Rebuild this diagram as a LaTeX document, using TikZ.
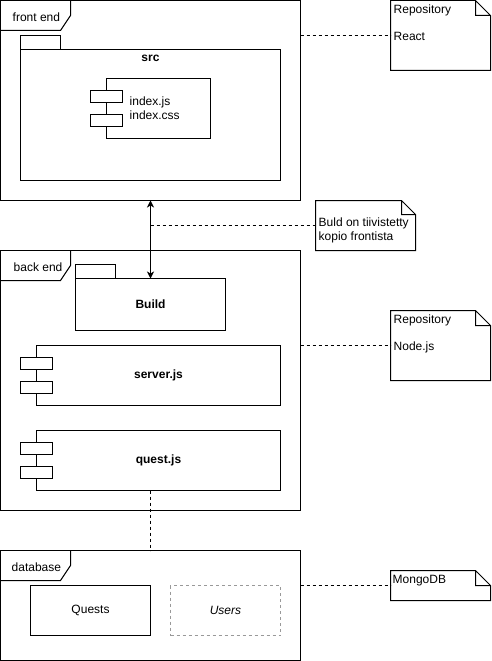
\documentclass[tikz,border=0pt]{standalone}
\usepackage{fontspec}
\setmainfont{Liberation Sans}
\usepackage{tikz}
\usetikzlibrary{arrows.meta,shapes,calc,positioning}
\definecolor{dashgray}{HTML}{999999}
\tikzstyle{edge}  =[line width=1pt, >={Stealth[length=7pt,width=7pt,inset=2pt]}]
\tikzstyle{link}  =[line width=1pt, dash pattern=on 3pt off 3pt]
\tikzstyle{box}   =[rectangle, draw, line width=1pt, inner sep=0pt,
                    outer sep=0pt, anchor=north west,
                    font=\fontsize{12}{14}\selectfont]
\tikzstyle{port}  =[box, fill=white, minimum width=32pt, minimum height=12pt]
\tikzstyle{tab}   =[box, minimum width=40pt, minimum height=14pt]
\tikzstyle{notebox}=[rectangle, inner sep=0pt, outer sep=0pt,
                    anchor=north west]
\tikzstyle{txt}   =[inner sep=0pt, draw=none,
                    font=\fontsize{12}{14}\selectfont]

\begin{document}
\begin{tikzpicture}[x=1pt, y=-1pt]
            \useasboundingbox (-0.5,-0.5) rectangle (490.5,660.5);
            % frames
            \node (fe) [box, minimum width=300pt, minimum height=200pt] at (0,0) {};
            \node (be) [box, minimum width=300pt, minimum height=260pt] at (0,250) {};
            \node (db) [box, minimum width=300pt, minimum height=110pt] at (0,550) {};
            \foreach \n in {fe, be, db}
              \draw[line width=1pt] ($(\n.north west)+(70,0)$) -- ++(0,15)
                -- ++(-10,15) -- ++(-60,0);
            \node (felbl) [txt, anchor=base west] at (12,21) {front end};
            \node (belbl) [txt, anchor=base west] at (13,271) {back end};
            \node (dblbl) [txt, anchor=base west] at (11,571) {database};

            % front end
            \node (srctab) [tab] at (20,35) {};
            \node (src) [box, minimum width=260pt, minimum height=131pt] at (20,49) {};
            \node (srclbl) [txt, font=\fontsize{12}{14}\selectfont\bfseries] at (150,58) {src};
            \node (idx) [box, minimum width=104pt, minimum height=60pt] at (106,78) {};
            \node (idxlbl) [txt, anchor=west, align=left] at (129,107.5) {index.js\\index.css};

            % back end
            \node (buildtab) [tab] at (75,264) {};
            \node (build) [box, minimum width=150pt, minimum height=52pt,
                           font=\fontsize{12}{14}\selectfont\bfseries] at (75,278) {Build};
            \node (srv) [box, minimum width=244pt, minimum height=60pt,
                         font=\fontsize{12}{14}\selectfont\bfseries] at (36,345) {server.js};
            \node (quest) [box, minimum width=244pt, minimum height=60pt,
                           font=\fontsize{12}{14}\selectfont\bfseries] at (36,430) {quest.js};
            \foreach \c in {idx, srv, quest} {
              \node [port] at ($(\c.north west)+(-16,12)$) {};
              \node [port] at ($(\c.north west)+(-16,36)$) {};
            }

            % database
            \node (quests) [box, minimum width=120pt, minimum height=50pt] at (30,585) {Quests};
            \node (users) [box, draw=dashgray, dash pattern=on 3pt off 3pt,
                           minimum width=110pt, minimum height=50pt,
                           font=\fontsize{12}{14}\selectfont\itshape] at (170,585) {Users};

            % notes
            \node (react) [notebox, minimum width=100pt, minimum height=70pt] at (390,0) {};
            \node (buildnote) [notebox, minimum width=100pt, minimum height=50pt] at (315,200) {};
            \node (nodejs) [notebox, minimum width=100pt, minimum height=70pt] at (390,310) {};
            \node (mongo) [notebox, minimum width=100pt, minimum height=30pt] at (390,570) {};
            \foreach \n/\f in {react/15, buildnote/14, nodejs/15, mongo/15}
              \draw[line width=1pt] (\n.north west) -- ($(\n.north east)+(-\f,0)$)
                -- ($(\n.north east)+(0,\f)$) -- (\n.south east) -- (\n.south west) -- cycle
                ($(\n.north east)+(-\f,0)$) -- ++(0,\f) -- ++(\f,0);
            \node (reactrepo) [txt, anchor=base west] at (393,13) {Repository};
            \node (reactlbl) [txt, anchor=base west] at (393,40) {React};
            \node (buildtxt) [txt, anchor=west, align=left] at (318,230)
                  {Buld on tiivistetty\\kopio frontista};
            \node (noderepo) [txt, anchor=base west] at (393,323) {Repository};
            \node (nodelbl) [txt, anchor=base west] at (393,350) {Node.js};
            \node (mongolbl) [txt, anchor=base west] at (392,583) {MongoDB};

            % connectors
            \draw[edge, <->] (fe.south) -- (build.north);
            \draw[link] (fe.east |- react.west) -- (react.west);
            \draw[link] (fe.south |- buildnote.west) -- (buildnote.west);
            \draw[link] (be.east |- nodejs.west) -- (nodejs.west);
            \draw[link] (db.east |- mongo.west) -- (mongo.west);
            \draw[link] (db.north |- quest.south) -- (db.north);

        \end{tikzpicture}
\end{document}
